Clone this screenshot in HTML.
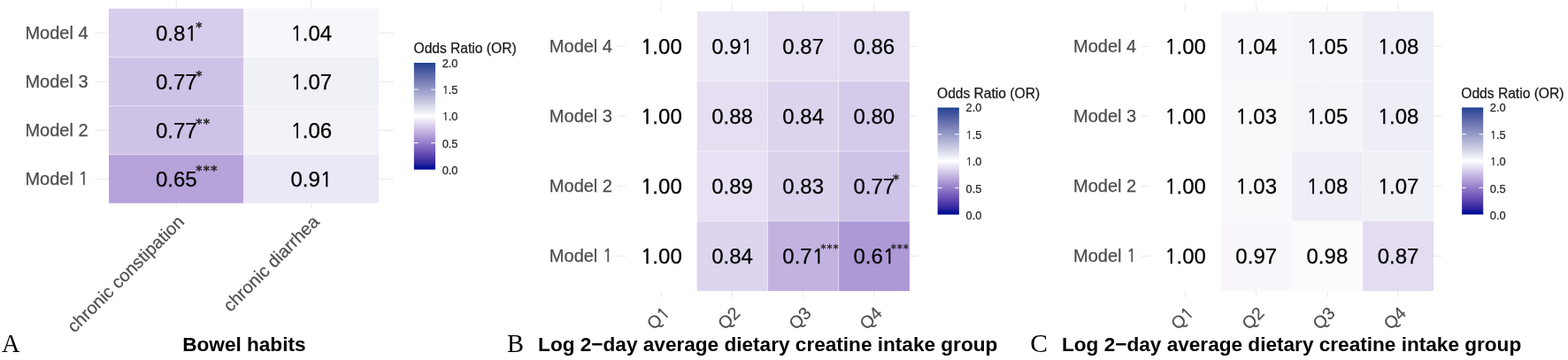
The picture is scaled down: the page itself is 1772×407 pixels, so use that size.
<!DOCTYPE html>
<html><head><meta charset="utf-8"><title>Odds ratio heatmaps</title><style>html,body{margin:0;padding:0;background:#fff;overflow:hidden;width:1772px;height:407px}svg{display:block}</style></head>
<body><svg font-family='"Liberation Sans", Arial, Helvetica, sans-serif' width="1772" height="407" viewBox="0 0 1772 407">
<rect width="1772" height="407" fill="#fff"/>
<line x1="199.28" y1="0" x2="199.28" y2="235.5" stroke="#e8e8e8" stroke-width="1"/>
<line x1="351.83" y1="0" x2="351.83" y2="235.5" stroke="#e8e8e8" stroke-width="1"/>
<line x1="107" y1="37.20" x2="445" y2="37.20" stroke="#e8e8e8" stroke-width="1"/>
<line x1="107" y1="92.20" x2="445" y2="92.20" stroke="#e8e8e8" stroke-width="1"/>
<line x1="107" y1="147.20" x2="445" y2="147.20" stroke="#e8e8e8" stroke-width="1"/>
<line x1="107" y1="202.20" x2="445" y2="202.20" stroke="#e8e8e8" stroke-width="1"/>
<rect x="123.00" y="9.70" width="152.55" height="55.00" fill="#d7cceb"/>
<rect x="275.55" y="9.70" width="152.55" height="55.00" fill="#f7f7fb"/>
<rect x="123.00" y="64.70" width="152.55" height="55.00" fill="#cec2e7"/>
<rect x="275.55" y="64.70" width="152.55" height="55.00" fill="#f0f0f7"/>
<rect x="123.00" y="119.70" width="152.55" height="55.00" fill="#cec2e7"/>
<rect x="275.55" y="119.70" width="152.55" height="55.00" fill="#f2f2f8"/>
<rect x="123.00" y="174.70" width="152.55" height="55.00" fill="#b5a3da"/>
<rect x="275.55" y="174.70" width="152.55" height="55.00" fill="#ece7f6"/>
<line x1="275.55" y1="9.7" x2="275.55" y2="229.70" stroke="#fff" stroke-opacity="0.45" stroke-width="1"/>
<line x1="123" y1="64.70" x2="428.10" y2="64.70" stroke="#fff" stroke-opacity="0.45" stroke-width="1"/>
<line x1="123" y1="119.70" x2="428.10" y2="119.70" stroke="#fff" stroke-opacity="0.45" stroke-width="1"/>
<line x1="123" y1="174.70" x2="428.10" y2="174.70" stroke="#fff" stroke-opacity="0.45" stroke-width="1"/>
<text x="199.28" y="45.80" font-size="24" fill="#000" text-anchor="middle" stroke="#000" stroke-width="0.25">0.8<tspan font-family="NanumGothic" font-size="22.50" letter-spacing="-0.29" stroke="#000" stroke-width="0.50">1</tspan></text>
<text x="351.83" y="45.80" font-size="24" fill="#000" text-anchor="middle" stroke="#000" stroke-width="0.25"><tspan font-family="NanumGothic" font-size="22.50" letter-spacing="-0.29" stroke="#000" stroke-width="0.50">1</tspan>.04</text>
<text x="199.28" y="100.80" font-size="24" fill="#000" text-anchor="middle" stroke="#000" stroke-width="0.25">0.77</text>
<text x="351.83" y="100.80" font-size="24" fill="#000" text-anchor="middle" stroke="#000" stroke-width="0.25"><tspan font-family="NanumGothic" font-size="22.50" letter-spacing="-0.29" stroke="#000" stroke-width="0.50">1</tspan>.07</text>
<text x="199.28" y="155.80" font-size="24" fill="#000" text-anchor="middle" stroke="#000" stroke-width="0.25">0.77</text>
<text x="351.83" y="155.80" font-size="24" fill="#000" text-anchor="middle" stroke="#000" stroke-width="0.25"><tspan font-family="NanumGothic" font-size="22.50" letter-spacing="-0.29" stroke="#000" stroke-width="0.50">1</tspan>.06</text>
<text x="199.28" y="210.80" font-size="24" fill="#000" text-anchor="middle" stroke="#000" stroke-width="0.25">0.65</text>
<text x="351.83" y="210.80" font-size="24" fill="#000" text-anchor="middle" stroke="#000" stroke-width="0.25">0.9<tspan font-family="NanumGothic" font-size="22.50" letter-spacing="-0.29" stroke="#000" stroke-width="0.50">1</tspan></text>
<text x="221.35" y="35.38" font-size="14.3" fill="#222" font-family='"DejaVu Sans", sans-serif' letter-spacing="1.25" stroke="#222" stroke-width="0.5">*</text>
<text x="221.35" y="89.88" font-size="14.3" fill="#222" font-family='"DejaVu Sans", sans-serif' letter-spacing="1.25" stroke="#222" stroke-width="0.5">*</text>
<text x="221.35" y="143.98" font-size="14.3" fill="#222" font-family='"DejaVu Sans", sans-serif' letter-spacing="1.25" stroke="#222" stroke-width="0.5">**</text>
<text x="221.35" y="196.68" font-size="14.3" fill="#222" font-family='"DejaVu Sans", sans-serif' letter-spacing="1.25" stroke="#222" stroke-width="0.5">***</text>
<text x="99.60" y="44.40" font-size="20" fill="#4d4d4d" text-anchor="end" stroke="#4d4d4d" stroke-width="0.25">Model 4</text>
<text x="99.60" y="99.40" font-size="20" fill="#4d4d4d" text-anchor="end" stroke="#4d4d4d" stroke-width="0.25">Model 3</text>
<text x="99.60" y="154.40" font-size="20" fill="#4d4d4d" text-anchor="end" stroke="#4d4d4d" stroke-width="0.25">Model 2</text>
<text x="99.60" y="209.40" font-size="20" fill="#4d4d4d" text-anchor="end" stroke="#4d4d4d" stroke-width="0.25">Model <tspan font-family="NanumGothic" font-size="18.75" letter-spacing="-0.24" stroke="#4d4d4d" stroke-width="0.42">1</tspan></text>
<text x="0.00" y="0.00" font-size="20" fill="#4d4d4d" text-anchor="end" stroke="#4d4d4d" stroke-width="0.2" transform="translate(209.28,252.00) rotate(-45)">chronic constipation</text>
<text x="0.00" y="0.00" font-size="20" fill="#4d4d4d" text-anchor="end" stroke="#4d4d4d" stroke-width="0.2" transform="translate(361.83,252.00) rotate(-45)">chronic diarrhea</text>
<line x1="747.38" y1="3" x2="747.38" y2="336.5" stroke="#e8e8e8" stroke-width="1"/>
<line x1="827.52" y1="3" x2="827.52" y2="336.5" stroke="#e8e8e8" stroke-width="1"/>
<line x1="907.67" y1="3" x2="907.67" y2="336.5" stroke="#e8e8e8" stroke-width="1"/>
<line x1="987.83" y1="3" x2="987.83" y2="336.5" stroke="#e8e8e8" stroke-width="1"/>
<line x1="697.8" y1="52.24" x2="1037.4" y2="52.24" stroke="#e8e8e8" stroke-width="1"/>
<line x1="697.8" y1="131.32" x2="1037.4" y2="131.32" stroke="#e8e8e8" stroke-width="1"/>
<line x1="697.8" y1="210.40" x2="1037.4" y2="210.40" stroke="#e8e8e8" stroke-width="1"/>
<line x1="697.8" y1="289.48" x2="1037.4" y2="289.48" stroke="#e8e8e8" stroke-width="1"/>
<rect x="707.30" y="12.70" width="80.15" height="79.08" fill="#ffffff"/>
<rect x="787.45" y="12.70" width="80.15" height="79.08" fill="#ece7f6"/>
<rect x="867.60" y="12.70" width="80.15" height="79.08" fill="#e4dcf1"/>
<rect x="947.75" y="12.70" width="80.15" height="79.08" fill="#e1daf0"/>
<rect x="707.30" y="91.78" width="80.15" height="79.08" fill="#ffffff"/>
<rect x="787.45" y="91.78" width="80.15" height="79.08" fill="#e6dff2"/>
<rect x="867.60" y="91.78" width="80.15" height="79.08" fill="#ddd4ee"/>
<rect x="947.75" y="91.78" width="80.15" height="79.08" fill="#d5caea"/>
<rect x="707.30" y="170.86" width="80.15" height="79.08" fill="#ffffff"/>
<rect x="787.45" y="170.86" width="80.15" height="79.08" fill="#e8e1f3"/>
<rect x="867.60" y="170.86" width="80.15" height="79.08" fill="#dbd2ed"/>
<rect x="947.75" y="170.86" width="80.15" height="79.08" fill="#cec2e7"/>
<rect x="707.30" y="249.94" width="80.15" height="79.08" fill="#ffffff"/>
<rect x="787.45" y="249.94" width="80.15" height="79.08" fill="#ddd4ee"/>
<rect x="867.60" y="249.94" width="80.15" height="79.08" fill="#c1b2e0"/>
<rect x="947.75" y="249.94" width="80.15" height="79.08" fill="#ac99d6"/>
<line x1="787.45" y1="12.7" x2="787.45" y2="329.02" stroke="#fff" stroke-opacity="0.45" stroke-width="1"/>
<line x1="867.60" y1="12.7" x2="867.60" y2="329.02" stroke="#fff" stroke-opacity="0.45" stroke-width="1"/>
<line x1="947.75" y1="12.7" x2="947.75" y2="329.02" stroke="#fff" stroke-opacity="0.45" stroke-width="1"/>
<line x1="707.3" y1="91.78" x2="1027.90" y2="91.78" stroke="#fff" stroke-opacity="0.45" stroke-width="1"/>
<line x1="707.3" y1="170.86" x2="1027.90" y2="170.86" stroke="#fff" stroke-opacity="0.45" stroke-width="1"/>
<line x1="707.3" y1="249.94" x2="1027.90" y2="249.94" stroke="#fff" stroke-opacity="0.45" stroke-width="1"/>
<text x="747.38" y="60.74" font-size="24" fill="#000" text-anchor="middle" stroke="#000" stroke-width="0.25"><tspan font-family="NanumGothic" font-size="22.50" letter-spacing="-0.29" stroke="#000" stroke-width="0.50">1</tspan>.00</text>
<text x="827.52" y="60.74" font-size="24" fill="#000" text-anchor="middle" stroke="#000" stroke-width="0.25">0.9<tspan font-family="NanumGothic" font-size="22.50" letter-spacing="-0.29" stroke="#000" stroke-width="0.50">1</tspan></text>
<text x="907.67" y="60.74" font-size="24" fill="#000" text-anchor="middle" stroke="#000" stroke-width="0.25">0.87</text>
<text x="987.83" y="60.74" font-size="24" fill="#000" text-anchor="middle" stroke="#000" stroke-width="0.25">0.86</text>
<text x="747.38" y="139.82" font-size="24" fill="#000" text-anchor="middle" stroke="#000" stroke-width="0.25"><tspan font-family="NanumGothic" font-size="22.50" letter-spacing="-0.29" stroke="#000" stroke-width="0.50">1</tspan>.00</text>
<text x="827.52" y="139.82" font-size="24" fill="#000" text-anchor="middle" stroke="#000" stroke-width="0.25">0.88</text>
<text x="907.67" y="139.82" font-size="24" fill="#000" text-anchor="middle" stroke="#000" stroke-width="0.25">0.84</text>
<text x="987.83" y="139.82" font-size="24" fill="#000" text-anchor="middle" stroke="#000" stroke-width="0.25">0.80</text>
<text x="747.38" y="218.90" font-size="24" fill="#000" text-anchor="middle" stroke="#000" stroke-width="0.25"><tspan font-family="NanumGothic" font-size="22.50" letter-spacing="-0.29" stroke="#000" stroke-width="0.50">1</tspan>.00</text>
<text x="827.52" y="218.90" font-size="24" fill="#000" text-anchor="middle" stroke="#000" stroke-width="0.25">0.89</text>
<text x="907.67" y="218.90" font-size="24" fill="#000" text-anchor="middle" stroke="#000" stroke-width="0.25">0.83</text>
<text x="987.83" y="218.90" font-size="24" fill="#000" text-anchor="middle" stroke="#000" stroke-width="0.25">0.77</text>
<text x="747.38" y="297.98" font-size="24" fill="#000" text-anchor="middle" stroke="#000" stroke-width="0.25"><tspan font-family="NanumGothic" font-size="22.50" letter-spacing="-0.29" stroke="#000" stroke-width="0.50">1</tspan>.00</text>
<text x="827.52" y="297.98" font-size="24" fill="#000" text-anchor="middle" stroke="#000" stroke-width="0.25">0.84</text>
<text x="907.67" y="297.98" font-size="24" fill="#000" text-anchor="middle" stroke="#000" stroke-width="0.25">0.7<tspan font-family="NanumGothic" font-size="22.50" letter-spacing="-0.29" stroke="#000" stroke-width="0.50">1</tspan></text>
<text x="987.83" y="297.98" font-size="24" fill="#000" text-anchor="middle" stroke="#000" stroke-width="0.25">0.6<tspan font-family="NanumGothic" font-size="22.50" letter-spacing="-0.29" stroke="#000" stroke-width="0.50">1</tspan></text>
<text x="1009.00" y="206.83" font-size="14.1" fill="#222" font-family='"DejaVu Sans", sans-serif' letter-spacing="1.2" stroke="#222" stroke-width="0.5">*</text>
<text x="927.41" y="284.78" font-size="12" fill="#222" font-family='"DejaVu Sans", sans-serif' letter-spacing="1.0" stroke="#222" stroke-width="0.3">***</text>
<text x="1006.67" y="284.68" font-size="12" fill="#222" font-family='"DejaVu Sans", sans-serif' letter-spacing="1.0" stroke="#222" stroke-width="0.3">***</text>
<text x="692.00" y="59.04" font-size="20" fill="#4d4d4d" text-anchor="end" stroke="#4d4d4d" stroke-width="0.25">Model 4</text>
<text x="692.00" y="138.12" font-size="20" fill="#4d4d4d" text-anchor="end" stroke="#4d4d4d" stroke-width="0.25">Model 3</text>
<text x="692.00" y="217.20" font-size="20" fill="#4d4d4d" text-anchor="end" stroke="#4d4d4d" stroke-width="0.25">Model 2</text>
<text x="692.00" y="296.28" font-size="20" fill="#4d4d4d" text-anchor="end" stroke="#4d4d4d" stroke-width="0.25">Model <tspan font-family="NanumGothic" font-size="18.75" letter-spacing="-0.24" stroke="#4d4d4d" stroke-width="0.42">1</tspan></text>
<text x="0.00" y="0.00" font-size="19.6" fill="#4d4d4d" text-anchor="end" stroke="#4d4d4d" stroke-width="0.2" transform="translate(757.58,355.20) rotate(-45)">Q<tspan font-family="NanumGothic" font-size="18.38" letter-spacing="-0.24" stroke="#4d4d4d" stroke-width="0.41">1</tspan></text>
<text x="0.00" y="0.00" font-size="19.6" fill="#4d4d4d" text-anchor="end" stroke="#4d4d4d" stroke-width="0.2" transform="translate(837.73,355.20) rotate(-45)">Q2</text>
<text x="0.00" y="0.00" font-size="19.6" fill="#4d4d4d" text-anchor="end" stroke="#4d4d4d" stroke-width="0.2" transform="translate(917.88,355.20) rotate(-45)">Q3</text>
<text x="0.00" y="0.00" font-size="19.6" fill="#4d4d4d" text-anchor="end" stroke="#4d4d4d" stroke-width="0.2" transform="translate(998.03,355.20) rotate(-45)">Q4</text>
<line x1="1339.58" y1="3" x2="1339.58" y2="336.5" stroke="#e8e8e8" stroke-width="1"/>
<line x1="1419.72" y1="3" x2="1419.72" y2="336.5" stroke="#e8e8e8" stroke-width="1"/>
<line x1="1499.88" y1="3" x2="1499.88" y2="336.5" stroke="#e8e8e8" stroke-width="1"/>
<line x1="1580.03" y1="3" x2="1580.03" y2="336.5" stroke="#e8e8e8" stroke-width="1"/>
<line x1="1290.0" y1="52.24" x2="1629.6" y2="52.24" stroke="#e8e8e8" stroke-width="1"/>
<line x1="1290.0" y1="131.32" x2="1629.6" y2="131.32" stroke="#e8e8e8" stroke-width="1"/>
<line x1="1290.0" y1="210.40" x2="1629.6" y2="210.40" stroke="#e8e8e8" stroke-width="1"/>
<line x1="1290.0" y1="289.48" x2="1629.6" y2="289.48" stroke="#e8e8e8" stroke-width="1"/>
<rect x="1299.50" y="12.70" width="80.15" height="79.08" fill="#ffffff"/>
<rect x="1379.65" y="12.70" width="80.15" height="79.08" fill="#f7f7fb"/>
<rect x="1459.80" y="12.70" width="80.15" height="79.08" fill="#f4f5f9"/>
<rect x="1539.95" y="12.70" width="80.15" height="79.08" fill="#eeeef6"/>
<rect x="1299.50" y="91.78" width="80.15" height="79.08" fill="#ffffff"/>
<rect x="1379.65" y="91.78" width="80.15" height="79.08" fill="#f9f9fc"/>
<rect x="1459.80" y="91.78" width="80.15" height="79.08" fill="#f4f5f9"/>
<rect x="1539.95" y="91.78" width="80.15" height="79.08" fill="#eeeef6"/>
<rect x="1299.50" y="170.86" width="80.15" height="79.08" fill="#ffffff"/>
<rect x="1379.65" y="170.86" width="80.15" height="79.08" fill="#f9f9fc"/>
<rect x="1459.80" y="170.86" width="80.15" height="79.08" fill="#eeeef6"/>
<rect x="1539.95" y="170.86" width="80.15" height="79.08" fill="#f0f0f7"/>
<rect x="1299.50" y="249.94" width="80.15" height="79.08" fill="#ffffff"/>
<rect x="1379.65" y="249.94" width="80.15" height="79.08" fill="#f9f7fc"/>
<rect x="1459.80" y="249.94" width="80.15" height="79.08" fill="#fbfafd"/>
<rect x="1539.95" y="249.94" width="80.15" height="79.08" fill="#e4dcf1"/>
<line x1="1379.65" y1="12.7" x2="1379.65" y2="329.02" stroke="#fff" stroke-opacity="0.45" stroke-width="1"/>
<line x1="1459.80" y1="12.7" x2="1459.80" y2="329.02" stroke="#fff" stroke-opacity="0.45" stroke-width="1"/>
<line x1="1539.95" y1="12.7" x2="1539.95" y2="329.02" stroke="#fff" stroke-opacity="0.45" stroke-width="1"/>
<line x1="1299.5" y1="91.78" x2="1620.10" y2="91.78" stroke="#fff" stroke-opacity="0.45" stroke-width="1"/>
<line x1="1299.5" y1="170.86" x2="1620.10" y2="170.86" stroke="#fff" stroke-opacity="0.45" stroke-width="1"/>
<line x1="1299.5" y1="249.94" x2="1620.10" y2="249.94" stroke="#fff" stroke-opacity="0.45" stroke-width="1"/>
<text x="1339.58" y="60.74" font-size="24" fill="#000" text-anchor="middle" stroke="#000" stroke-width="0.25"><tspan font-family="NanumGothic" font-size="22.50" letter-spacing="-0.29" stroke="#000" stroke-width="0.50">1</tspan>.00</text>
<text x="1419.72" y="60.74" font-size="24" fill="#000" text-anchor="middle" stroke="#000" stroke-width="0.25"><tspan font-family="NanumGothic" font-size="22.50" letter-spacing="-0.29" stroke="#000" stroke-width="0.50">1</tspan>.04</text>
<text x="1499.88" y="60.74" font-size="24" fill="#000" text-anchor="middle" stroke="#000" stroke-width="0.25"><tspan font-family="NanumGothic" font-size="22.50" letter-spacing="-0.29" stroke="#000" stroke-width="0.50">1</tspan>.05</text>
<text x="1580.03" y="60.74" font-size="24" fill="#000" text-anchor="middle" stroke="#000" stroke-width="0.25"><tspan font-family="NanumGothic" font-size="22.50" letter-spacing="-0.29" stroke="#000" stroke-width="0.50">1</tspan>.08</text>
<text x="1339.58" y="139.82" font-size="24" fill="#000" text-anchor="middle" stroke="#000" stroke-width="0.25"><tspan font-family="NanumGothic" font-size="22.50" letter-spacing="-0.29" stroke="#000" stroke-width="0.50">1</tspan>.00</text>
<text x="1419.72" y="139.82" font-size="24" fill="#000" text-anchor="middle" stroke="#000" stroke-width="0.25"><tspan font-family="NanumGothic" font-size="22.50" letter-spacing="-0.29" stroke="#000" stroke-width="0.50">1</tspan>.03</text>
<text x="1499.88" y="139.82" font-size="24" fill="#000" text-anchor="middle" stroke="#000" stroke-width="0.25"><tspan font-family="NanumGothic" font-size="22.50" letter-spacing="-0.29" stroke="#000" stroke-width="0.50">1</tspan>.05</text>
<text x="1580.03" y="139.82" font-size="24" fill="#000" text-anchor="middle" stroke="#000" stroke-width="0.25"><tspan font-family="NanumGothic" font-size="22.50" letter-spacing="-0.29" stroke="#000" stroke-width="0.50">1</tspan>.08</text>
<text x="1339.58" y="218.90" font-size="24" fill="#000" text-anchor="middle" stroke="#000" stroke-width="0.25"><tspan font-family="NanumGothic" font-size="22.50" letter-spacing="-0.29" stroke="#000" stroke-width="0.50">1</tspan>.00</text>
<text x="1419.72" y="218.90" font-size="24" fill="#000" text-anchor="middle" stroke="#000" stroke-width="0.25"><tspan font-family="NanumGothic" font-size="22.50" letter-spacing="-0.29" stroke="#000" stroke-width="0.50">1</tspan>.03</text>
<text x="1499.88" y="218.90" font-size="24" fill="#000" text-anchor="middle" stroke="#000" stroke-width="0.25"><tspan font-family="NanumGothic" font-size="22.50" letter-spacing="-0.29" stroke="#000" stroke-width="0.50">1</tspan>.08</text>
<text x="1580.03" y="218.90" font-size="24" fill="#000" text-anchor="middle" stroke="#000" stroke-width="0.25"><tspan font-family="NanumGothic" font-size="22.50" letter-spacing="-0.29" stroke="#000" stroke-width="0.50">1</tspan>.07</text>
<text x="1339.58" y="297.98" font-size="24" fill="#000" text-anchor="middle" stroke="#000" stroke-width="0.25"><tspan font-family="NanumGothic" font-size="22.50" letter-spacing="-0.29" stroke="#000" stroke-width="0.50">1</tspan>.00</text>
<text x="1419.72" y="297.98" font-size="24" fill="#000" text-anchor="middle" stroke="#000" stroke-width="0.25">0.97</text>
<text x="1499.88" y="297.98" font-size="24" fill="#000" text-anchor="middle" stroke="#000" stroke-width="0.25">0.98</text>
<text x="1580.03" y="297.98" font-size="24" fill="#000" text-anchor="middle" stroke="#000" stroke-width="0.25">0.87</text>
<text x="1284.20" y="59.04" font-size="20" fill="#4d4d4d" text-anchor="end" stroke="#4d4d4d" stroke-width="0.25">Model 4</text>
<text x="1284.20" y="138.12" font-size="20" fill="#4d4d4d" text-anchor="end" stroke="#4d4d4d" stroke-width="0.25">Model 3</text>
<text x="1284.20" y="217.20" font-size="20" fill="#4d4d4d" text-anchor="end" stroke="#4d4d4d" stroke-width="0.25">Model 2</text>
<text x="1284.20" y="296.28" font-size="20" fill="#4d4d4d" text-anchor="end" stroke="#4d4d4d" stroke-width="0.25">Model <tspan font-family="NanumGothic" font-size="18.75" letter-spacing="-0.24" stroke="#4d4d4d" stroke-width="0.42">1</tspan></text>
<text x="0.00" y="0.00" font-size="19.6" fill="#4d4d4d" text-anchor="end" stroke="#4d4d4d" stroke-width="0.2" transform="translate(1349.78,355.20) rotate(-45)">Q<tspan font-family="NanumGothic" font-size="18.38" letter-spacing="-0.24" stroke="#4d4d4d" stroke-width="0.41">1</tspan></text>
<text x="0.00" y="0.00" font-size="19.6" fill="#4d4d4d" text-anchor="end" stroke="#4d4d4d" stroke-width="0.2" transform="translate(1429.92,355.20) rotate(-45)">Q2</text>
<text x="0.00" y="0.00" font-size="19.6" fill="#4d4d4d" text-anchor="end" stroke="#4d4d4d" stroke-width="0.2" transform="translate(1510.08,355.20) rotate(-45)">Q3</text>
<text x="0.00" y="0.00" font-size="19.6" fill="#4d4d4d" text-anchor="end" stroke="#4d4d4d" stroke-width="0.2" transform="translate(1590.23,355.20) rotate(-45)">Q4</text>
<defs><linearGradient id="g467" x1="0" y1="0" x2="0" y2="1"><stop offset="0.000" stop-color="#1d4290"/><stop offset="0.025" stop-color="#2f4a96"/><stop offset="0.050" stop-color="#3d529b"/><stop offset="0.075" stop-color="#4a5ba1"/><stop offset="0.100" stop-color="#5664a6"/><stop offset="0.125" stop-color="#616cac"/><stop offset="0.150" stop-color="#6c75b1"/><stop offset="0.175" stop-color="#777eb7"/><stop offset="0.200" stop-color="#8288bc"/><stop offset="0.225" stop-color="#8c91c2"/><stop offset="0.250" stop-color="#979bc7"/><stop offset="0.275" stop-color="#a1a4cd"/><stop offset="0.300" stop-color="#abaed2"/><stop offset="0.325" stop-color="#b6b8d8"/><stop offset="0.350" stop-color="#c0c2dd"/><stop offset="0.375" stop-color="#cbcce3"/><stop offset="0.400" stop-color="#d5d6e9"/><stop offset="0.425" stop-color="#dfe0ee"/><stop offset="0.450" stop-color="#eaeaf4"/><stop offset="0.475" stop-color="#f4f5f9"/><stop offset="0.500" stop-color="#ffffff"/><stop offset="0.525" stop-color="#f4f1fa"/><stop offset="0.550" stop-color="#eae4f5"/><stop offset="0.575" stop-color="#dfd7ef"/><stop offset="0.600" stop-color="#d5caea"/><stop offset="0.625" stop-color="#cabde5"/><stop offset="0.650" stop-color="#bfb0df"/><stop offset="0.675" stop-color="#b5a3da"/><stop offset="0.700" stop-color="#aa97d4"/><stop offset="0.725" stop-color="#9f8acf"/><stop offset="0.750" stop-color="#947eca"/><stop offset="0.775" stop-color="#8872c4"/><stop offset="0.800" stop-color="#7d66bf"/><stop offset="0.825" stop-color="#715ab9"/><stop offset="0.850" stop-color="#654eb3"/><stop offset="0.875" stop-color="#5843ae"/><stop offset="0.900" stop-color="#4a37a8"/><stop offset="0.925" stop-color="#3b2ca3"/><stop offset="0.950" stop-color="#28219d"/><stop offset="0.975" stop-color="#061597"/><stop offset="1.000" stop-color="#000792"/></linearGradient></defs>
<rect x="467.8" y="71" width="24.2" height="120.7" fill="url(#g467)"/>
<line x1="467.8" y1="101.17" x2="472.64" y2="101.17" stroke="#fff" stroke-width="1"/>
<line x1="487.16" y1="101.17" x2="492.0" y2="101.17" stroke="#fff" stroke-width="1"/>
<line x1="467.8" y1="131.35" x2="472.64" y2="131.35" stroke="#fff" stroke-width="1"/>
<line x1="487.16" y1="131.35" x2="492.0" y2="131.35" stroke="#fff" stroke-width="1"/>
<line x1="467.8" y1="161.53" x2="472.64" y2="161.53" stroke="#fff" stroke-width="1"/>
<line x1="487.16" y1="161.53" x2="492.0" y2="161.53" stroke="#fff" stroke-width="1"/>
<text x="499.66" y="75.50" font-size="12.8" fill="#262626" stroke="#262626" stroke-width="0.25">2.0</text>
<text x="499.66" y="105.95" font-size="12.8" fill="#262626" stroke="#262626" stroke-width="0.25"><tspan font-family="NanumGothic" font-size="12.00" letter-spacing="-0.15" stroke="#262626" stroke-width="0.27">1</tspan>.5</text>
<text x="499.66" y="136.40" font-size="12.8" fill="#262626" stroke="#262626" stroke-width="0.25"><tspan font-family="NanumGothic" font-size="12.00" letter-spacing="-0.15" stroke="#262626" stroke-width="0.27">1</tspan>.0</text>
<text x="499.66" y="166.85" font-size="12.8" fill="#262626" stroke="#262626" stroke-width="0.25">0.5</text>
<text x="499.66" y="197.30" font-size="12.8" fill="#262626" stroke="#262626" stroke-width="0.25">0.0</text>
<text x="467.50" y="59.60" font-size="15.6" fill="#1a1a1a" stroke="#1a1a1a" stroke-width="0.25">Odds Ratio (OR)</text>
<defs><linearGradient id="g1059" x1="0" y1="0" x2="0" y2="1"><stop offset="0.000" stop-color="#1d4290"/><stop offset="0.025" stop-color="#2f4a96"/><stop offset="0.050" stop-color="#3d529b"/><stop offset="0.075" stop-color="#4a5ba1"/><stop offset="0.100" stop-color="#5664a6"/><stop offset="0.125" stop-color="#616cac"/><stop offset="0.150" stop-color="#6c75b1"/><stop offset="0.175" stop-color="#777eb7"/><stop offset="0.200" stop-color="#8288bc"/><stop offset="0.225" stop-color="#8c91c2"/><stop offset="0.250" stop-color="#979bc7"/><stop offset="0.275" stop-color="#a1a4cd"/><stop offset="0.300" stop-color="#abaed2"/><stop offset="0.325" stop-color="#b6b8d8"/><stop offset="0.350" stop-color="#c0c2dd"/><stop offset="0.375" stop-color="#cbcce3"/><stop offset="0.400" stop-color="#d5d6e9"/><stop offset="0.425" stop-color="#dfe0ee"/><stop offset="0.450" stop-color="#eaeaf4"/><stop offset="0.475" stop-color="#f4f5f9"/><stop offset="0.500" stop-color="#ffffff"/><stop offset="0.525" stop-color="#f4f1fa"/><stop offset="0.550" stop-color="#eae4f5"/><stop offset="0.575" stop-color="#dfd7ef"/><stop offset="0.600" stop-color="#d5caea"/><stop offset="0.625" stop-color="#cabde5"/><stop offset="0.650" stop-color="#bfb0df"/><stop offset="0.675" stop-color="#b5a3da"/><stop offset="0.700" stop-color="#aa97d4"/><stop offset="0.725" stop-color="#9f8acf"/><stop offset="0.750" stop-color="#947eca"/><stop offset="0.775" stop-color="#8872c4"/><stop offset="0.800" stop-color="#7d66bf"/><stop offset="0.825" stop-color="#715ab9"/><stop offset="0.850" stop-color="#654eb3"/><stop offset="0.875" stop-color="#5843ae"/><stop offset="0.900" stop-color="#4a37a8"/><stop offset="0.925" stop-color="#3b2ca3"/><stop offset="0.950" stop-color="#28219d"/><stop offset="0.975" stop-color="#061597"/><stop offset="1.000" stop-color="#000792"/></linearGradient></defs>
<rect x="1059.6" y="121.6" width="24.3" height="121.0" fill="url(#g1059)"/>
<line x1="1059.6" y1="151.85" x2="1064.46" y2="151.85" stroke="#fff" stroke-width="1"/>
<line x1="1079.04" y1="151.85" x2="1083.8999999999999" y2="151.85" stroke="#fff" stroke-width="1"/>
<line x1="1059.6" y1="182.10" x2="1064.46" y2="182.10" stroke="#fff" stroke-width="1"/>
<line x1="1079.04" y1="182.10" x2="1083.8999999999999" y2="182.10" stroke="#fff" stroke-width="1"/>
<line x1="1059.6" y1="212.35" x2="1064.46" y2="212.35" stroke="#fff" stroke-width="1"/>
<line x1="1079.04" y1="212.35" x2="1083.8999999999999" y2="212.35" stroke="#fff" stroke-width="1"/>
<text x="1091.56" y="126.10" font-size="12.8" fill="#262626" stroke="#262626" stroke-width="0.25">2.0</text>
<text x="1091.56" y="156.62" font-size="12.8" fill="#262626" stroke="#262626" stroke-width="0.25"><tspan font-family="NanumGothic" font-size="12.00" letter-spacing="-0.15" stroke="#262626" stroke-width="0.27">1</tspan>.5</text>
<text x="1091.56" y="187.15" font-size="12.8" fill="#262626" stroke="#262626" stroke-width="0.25"><tspan font-family="NanumGothic" font-size="12.00" letter-spacing="-0.15" stroke="#262626" stroke-width="0.27">1</tspan>.0</text>
<text x="1091.56" y="217.67" font-size="12.8" fill="#262626" stroke="#262626" stroke-width="0.25">0.5</text>
<text x="1091.56" y="248.20" font-size="12.8" fill="#262626" stroke="#262626" stroke-width="0.25">0.0</text>
<text x="1059.00" y="111.40" font-size="15.6" fill="#1a1a1a" stroke="#1a1a1a" stroke-width="0.25">Odds Ratio (OR)</text>
<defs><linearGradient id="g1652" x1="0" y1="0" x2="0" y2="1"><stop offset="0.000" stop-color="#1d4290"/><stop offset="0.025" stop-color="#2f4a96"/><stop offset="0.050" stop-color="#3d529b"/><stop offset="0.075" stop-color="#4a5ba1"/><stop offset="0.100" stop-color="#5664a6"/><stop offset="0.125" stop-color="#616cac"/><stop offset="0.150" stop-color="#6c75b1"/><stop offset="0.175" stop-color="#777eb7"/><stop offset="0.200" stop-color="#8288bc"/><stop offset="0.225" stop-color="#8c91c2"/><stop offset="0.250" stop-color="#979bc7"/><stop offset="0.275" stop-color="#a1a4cd"/><stop offset="0.300" stop-color="#abaed2"/><stop offset="0.325" stop-color="#b6b8d8"/><stop offset="0.350" stop-color="#c0c2dd"/><stop offset="0.375" stop-color="#cbcce3"/><stop offset="0.400" stop-color="#d5d6e9"/><stop offset="0.425" stop-color="#dfe0ee"/><stop offset="0.450" stop-color="#eaeaf4"/><stop offset="0.475" stop-color="#f4f5f9"/><stop offset="0.500" stop-color="#ffffff"/><stop offset="0.525" stop-color="#f4f1fa"/><stop offset="0.550" stop-color="#eae4f5"/><stop offset="0.575" stop-color="#dfd7ef"/><stop offset="0.600" stop-color="#d5caea"/><stop offset="0.625" stop-color="#cabde5"/><stop offset="0.650" stop-color="#bfb0df"/><stop offset="0.675" stop-color="#b5a3da"/><stop offset="0.700" stop-color="#aa97d4"/><stop offset="0.725" stop-color="#9f8acf"/><stop offset="0.750" stop-color="#947eca"/><stop offset="0.775" stop-color="#8872c4"/><stop offset="0.800" stop-color="#7d66bf"/><stop offset="0.825" stop-color="#715ab9"/><stop offset="0.850" stop-color="#654eb3"/><stop offset="0.875" stop-color="#5843ae"/><stop offset="0.900" stop-color="#4a37a8"/><stop offset="0.925" stop-color="#3b2ca3"/><stop offset="0.950" stop-color="#28219d"/><stop offset="0.975" stop-color="#061597"/><stop offset="1.000" stop-color="#000792"/></linearGradient></defs>
<rect x="1652.1" y="121.5" width="24.1" height="121.0" fill="url(#g1652)"/>
<line x1="1652.1" y1="151.75" x2="1656.92" y2="151.75" stroke="#fff" stroke-width="1"/>
<line x1="1671.38" y1="151.75" x2="1676.1999999999998" y2="151.75" stroke="#fff" stroke-width="1"/>
<line x1="1652.1" y1="182.00" x2="1656.92" y2="182.00" stroke="#fff" stroke-width="1"/>
<line x1="1671.38" y1="182.00" x2="1676.1999999999998" y2="182.00" stroke="#fff" stroke-width="1"/>
<line x1="1652.1" y1="212.25" x2="1656.92" y2="212.25" stroke="#fff" stroke-width="1"/>
<line x1="1671.38" y1="212.25" x2="1676.1999999999998" y2="212.25" stroke="#fff" stroke-width="1"/>
<text x="1683.86" y="126.00" font-size="12.8" fill="#262626" stroke="#262626" stroke-width="0.25">2.0</text>
<text x="1683.86" y="156.53" font-size="12.8" fill="#262626" stroke="#262626" stroke-width="0.25"><tspan font-family="NanumGothic" font-size="12.00" letter-spacing="-0.15" stroke="#262626" stroke-width="0.27">1</tspan>.5</text>
<text x="1683.86" y="187.05" font-size="12.8" fill="#262626" stroke="#262626" stroke-width="0.25"><tspan font-family="NanumGothic" font-size="12.00" letter-spacing="-0.15" stroke="#262626" stroke-width="0.27">1</tspan>.0</text>
<text x="1683.86" y="217.57" font-size="12.8" fill="#262626" stroke="#262626" stroke-width="0.25">0.5</text>
<text x="1683.86" y="248.10" font-size="12.8" fill="#262626" stroke="#262626" stroke-width="0.25">0.0</text>
<text x="1651.30" y="111.40" font-size="15.6" fill="#1a1a1a" stroke="#1a1a1a" stroke-width="0.25">Odds Ratio (OR)</text>
<text x="2.10" y="398.00" font-size="28.4" fill="#000" font-family='"Liberation Serif", "Times New Roman", serif'>A</text>
<text x="573.00" y="398.00" font-size="28.4" fill="#000" font-family='"Liberation Serif", "Times New Roman", serif'>B</text>
<text x="1164.20" y="398.00" font-size="29.5" fill="#000" font-family='"Liberation Serif", "Times New Roman", serif'>C</text>
<text x="206.20" y="397.40" font-size="22.6" fill="#000" font-weight="bold">Bowel habits</text>
<text x="608.10" y="397.20" font-size="22.6" fill="#000" font-weight="bold">Log 2&#8722;day average dietary creatine intake group</text>
<text x="1200.00" y="397.20" font-size="22.6" fill="#000" font-weight="bold">Log 2&#8722;day average dietary creatine intake group</text>
</svg></body></html>
